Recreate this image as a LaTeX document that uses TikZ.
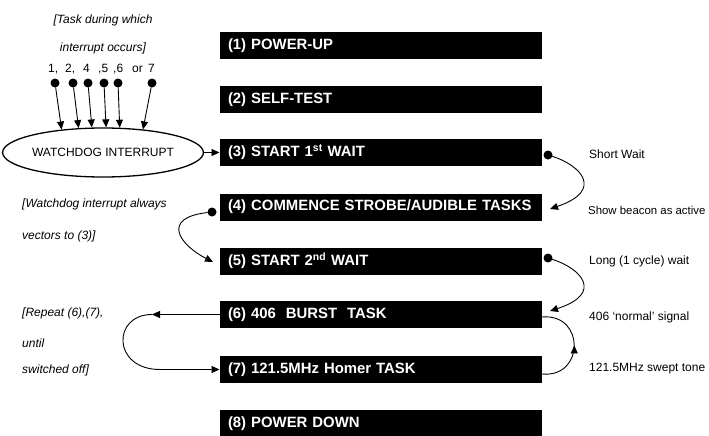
\documentclass[tikz,border=0pt]{standalone}
\usepackage{fontspec}
\setmainfont{Liberation Sans}
\usetikzlibrary{arrows.meta,shapes.geometric,decorations.markings}
\begin{document}
\begin{tikzpicture}[x=1pt,y=1pt,
 taskbox/.style={fill=black,text=white,font=\fontsize{14.9}{16}\selectfont\bfseries,text width=305.5pt,inner xsep=8.5pt,inner ysep=0pt,minimum height=27pt,align=left,outer sep=0pt},
 lbl/.style={font=\fontsize{12}{14}\selectfont,inner sep=0pt},
 ilbl/.style={font=\fontsize{12}{14}\selectfont\itshape,inner sep=0pt},
 dotc/.style={circle,fill=black,minimum size=9pt,inner sep=0pt,outer sep=0pt},
 arr/.style={-{Triangle[length=8pt,width=7pt]},line width=0.9pt},
 midup/.style={decoration={markings,mark=at position 0.5 with {\arrow{Triangle[length=8pt,width=7pt]}}},postaction={decorate}}
]
\useasboundingbox (0,0) rectangle (709,-436);

% task boxes
\node[taskbox] (b1) at (380.75,-45.5) {(1) POWER-UP};
\node[taskbox] (b2) at (380.75,-99.5) {(2) SELF-TEST};
\node[taskbox] (b3) at (380.75,-152.5) {(3) START 1\textsuperscript{st} WAIT};
\node[taskbox] (b4) at (380.75,-207) {(4) COMMENCE STROBE/AUDIBLE TASKS};
\node[taskbox] (b5) at (380.75,-261) {(5) START 2\textsuperscript{nd} WAIT};
\node[taskbox] (b6) at (380.75,-314.5) {(6) 406\ \ BURST\ \ TASK};
\node[taskbox] (b7) at (380.75,-369.5) {(7) 121.5MHz Homer TASK};
\node[taskbox] (b8) at (380.75,-423.5) {(8) POWER DOWN};

% watchdog
\node[ellipse,draw,line width=1.3pt,minimum width=176pt,minimum height=49pt,inner sep=0pt,font=\fontsize{12}{14}\selectfont] (wd) at (103,-152.5) {WATCHDOG INTERRUPT};
\draw[arr] (wd.east) -- (b3.west);

\node[ilbl] (tl1) at (103,-20) {[Task during which};
\node[ilbl] (tl2) at (103,-48) {interrupt occurs]};

\node[lbl,anchor=base west] (n1) at (48,-72.5) {1,};
\node[lbl,anchor=base west] (n2) at (65,-72.5) {2,};
\node[lbl,anchor=base west] (n3) at (83,-72.5) {4};
\node[lbl,anchor=base west] (n4) at (98,-72.5) {,5};
\node[lbl,anchor=base west] (n5) at (113,-72.5) {,6};
\node[lbl,anchor=base west] (n6) at (132,-72.5) {or};
\node[lbl,anchor=base west] (n7) at (148,-72.5) {7};

\node[dotc] (d1) at (55,-83) {};
\node[dotc] (d2) at (73,-83) {};
\node[dotc] (d3) at (88,-83) {};
\node[dotc] (d4) at (104,-83) {};
\node[dotc] (d5) at (118,-83) {};
\node[dotc] (d6) at (152,-83) {};
\draw[arr] (d1) -- (wd.151.4);
\draw[arr] (d2) -- (wd.135.5);
\draw[arr] (d3) -- (wd.114.4);
\draw[arr] (d4) -- (wd.83);
\draw[arr] (d5) -- (wd.56.4);
\draw[arr] (d6) -- (wd.30.2);

% left notes
\node[ilbl,anchor=west] (w1) at (22,-204) {[Watchdog interrupt always};
\node[ilbl,anchor=west] (w2) at (22,-236) {vectors to (3)]};
\node[ilbl,anchor=west] (p1) at (22,-313) {[Repeat (6),(7),};
\node[ilbl,anchor=west] (p2) at (22,-343) {until};
\node[ilbl,anchor=west] (p3) at (22,-370) {switched off]};

% right notes
\node[lbl,anchor=west] (s1) at (589,-154) {Short Wait};
\node[lbl,anchor=west,font=\fontsize{11.4}{14}\selectfont] (s2) at (588,-210) {Show beacon as active};
\node[lbl,anchor=west] (s3) at (589,-261) {Long (1 cycle) wait};
\node[lbl,anchor=west] (s4) at (589,-317) {406 `normal' signal};
\node[lbl,anchor=west] (s5) at (589,-369) {121.5MHz swept tone};

% curved connectors
\node[dotc] (c3) at (548,-155) {};
\coordinate (t4) at (550,-209);
\draw[arr] (c3) .. controls (580,-165) and (605,-190) .. (t4);

\node[dotc] (c4) at (212,-212) {};
\coordinate (t5) at (213,-262);
\draw[arr] (c4) .. controls (160,-218) and (180,-245) .. (t5);

\node[dotc] (c5) at (548,-258) {};
\coordinate (t6) at (550,-311);
\draw[arr] (c5) .. controls (580,-268) and (605,-293) .. (t6);

% right loop 7 -> 6
\coordinate (r7) at ([yshift=-4.5pt]b7.east);
\coordinate (r6) at ([yshift=-2.5pt]b6.east);
\draw[line width=0.9pt,midup] (r7) .. controls (585,-378) and (585,-313) .. (r6);

% left loop 6 -> 7
\coordinate (lt) at (152,-314.5);
\coordinate (lb) at (160,-369.5);
\draw[arr] (b6.west) -- (lt);
\draw[arr] (lt) .. controls (112,-314.5) and (112,-369.5) .. (lb) -- (b7.west);
\end{tikzpicture}
\end{document}
